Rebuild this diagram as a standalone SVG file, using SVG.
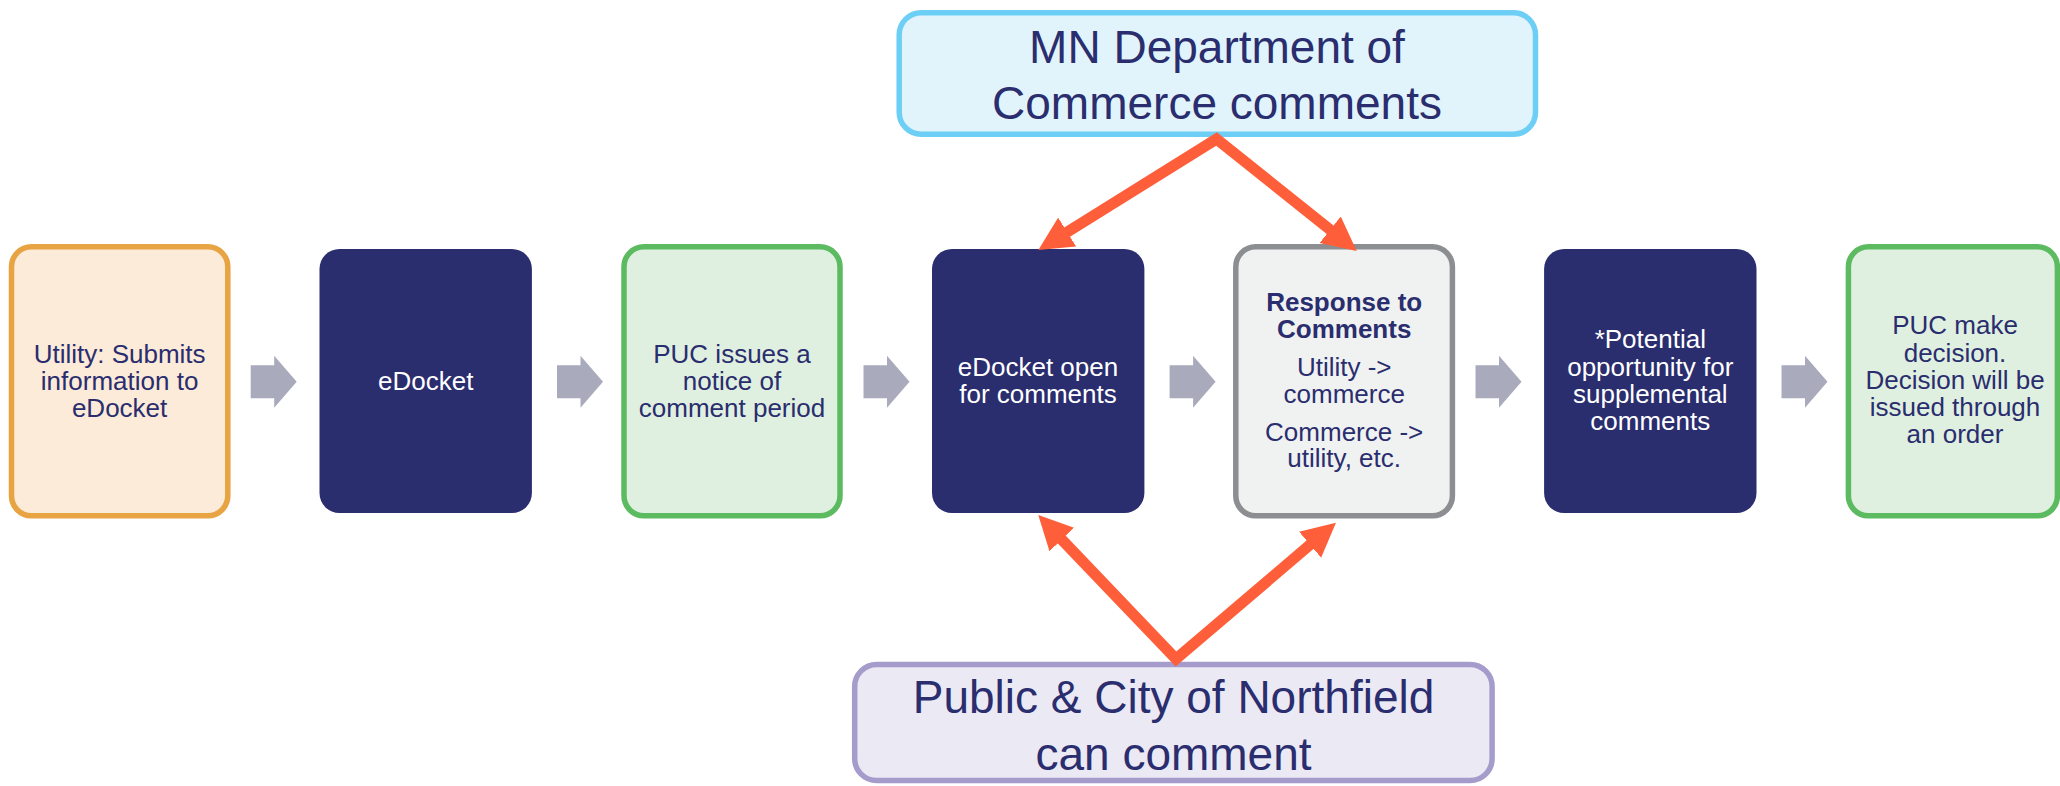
<svg xmlns="http://www.w3.org/2000/svg" width="2060" height="786" viewBox="0 0 2060 786">
<style>
text{font-family:"Liberation Sans",Arial,sans-serif;text-anchor:middle;}
.t{font-size:26px;fill:#2A2D6E;}
.w{font-size:26px;fill:#FFFFFF;}
.b{font-weight:bold;}
.big{font-size:46px;fill:#2A2D6E;}
.navy{fill:#2A2D6E;}
.orange{fill:#FBEBD8;stroke:#E8A343;stroke-width:5.5;}
.green{fill:#DFF0E0;stroke:#5CBB60;stroke-width:5.5;}
.gray{fill:#F0F2F1;stroke:#8C8E91;stroke-width:5.5;}
.blue{fill:#E1F4FC;stroke:#6DCFF6;stroke-width:5.5;}
.lav{fill:#EBE9F4;stroke:#A59CCB;stroke-width:5.5;}
.flow{fill:#A9ABBD;}
.conn{fill:none;stroke:#FF5E3A;stroke-width:11;stroke-linejoin:miter;stroke-miterlimit:10;}
</style>
<defs>
<path id="step" d="M0,9.5 H23.5 V0 L46,26 L23.5,52 V42.5 H0 Z"/>
<marker id="head" markerUnits="userSpaceOnUse" markerWidth="36" markerHeight="36" refX="2" refY="17" orient="auto-start-reverse" viewBox="0 0 36 36">
<path d="M0,0 L34,17 L0,34 Z" fill="#FF5E3A"/>
</marker>
</defs>
<rect width="2060" height="786" fill="#FFFFFF"/>

<g id="flow-arrows">
<use href="#step" class="flow" x="250.7" y="355.7"/>
<use href="#step" class="flow" x="557" y="355.7"/>
<use href="#step" class="flow" x="863.5" y="355.7"/>
<use href="#step" class="flow" x="1169.6" y="355.7"/>
<use href="#step" class="flow" x="1475.5" y="355.7"/>
<use href="#step" class="flow" x="1781.5" y="355.7"/>
</g>

<g id="utility">
<rect class="orange" x="11.5" y="246.8" width="216.3" height="269" rx="20"/>
<text class="t" x="119.6" y="362.5">Utility: Submits</text>
<text class="t" x="119.6" y="389.5">information to</text>
<text class="t" x="119.6" y="416.5">eDocket</text>
</g>

<g id="edocket">
<rect class="navy" x="319.5" y="249" width="212.4" height="264" rx="20"/>
<text class="w" x="425.7" y="390">eDocket</text>
</g>

<g id="puc-notice">
<rect class="green" x="624" y="246.8" width="216" height="269" rx="20"/>
<text class="t" x="732" y="362.5">PUC issues a</text>
<text class="t" x="732" y="389.5">notice of</text>
<text class="t" x="732" y="416.5">comment period</text>
</g>

<g id="edocket-open">
<rect class="navy" x="932" y="249" width="212.4" height="264" rx="20"/>
<text class="w" x="1038" y="375.7">eDocket open</text>
<text class="w" x="1038" y="402.5">for comments</text>
</g>

<g id="response">
<rect class="gray" x="1235.8" y="246.8" width="216.6" height="269" rx="20"/>
<text class="t b" x="1344.2" y="311">Response to</text>
<text class="t b" x="1344.2" y="337.5">Comments</text>
<text class="t" x="1344.2" y="376">Utility -&gt;</text>
<text class="t" x="1344.2" y="402.7">commerce</text>
<text class="t" x="1344.2" y="440.7">Commerce -&gt;</text>
<text class="t" x="1344.2" y="467.3">utility, etc.</text>
</g>

<g id="supplemental">
<rect class="navy" x="1544.1" y="249" width="212.4" height="264" rx="20"/>
<text class="w" x="1650.3" y="348.3">*Potential</text>
<text class="w" x="1650.3" y="375.5">opportunity for</text>
<text class="w" x="1650.3" y="402.5">supplemental</text>
<text class="w" x="1650.3" y="429.5">comments</text>
</g>

<g id="decision">
<rect class="green" x="1848.4" y="246.8" width="209" height="269" rx="20"/>
<text class="t" x="1955" y="334.3">PUC make</text>
<text class="t" x="1955" y="361.5">decision.</text>
<text class="t" x="1955" y="388.5">Decision will be</text>
<text class="t" x="1955" y="415.7">issued through</text>
<text class="t" x="1955" y="442.7">an order</text>
</g>

<g id="commerce">
<rect class="blue" x="899.2" y="12.7" width="636.3" height="121.5" rx="22"/>
<text class="big" x="1217" y="63.3">MN Department of</text>
<text class="big" x="1217" y="119.3">Commerce comments</text>
</g>

<g id="public">
<rect class="lav" x="854.7" y="664.4" width="637.4" height="116.2" rx="22"/>
<text class="big" x="1173.5" y="713.3">Public &amp; City of Northfield</text>
<text class="big" x="1173.5" y="769.5">can comment</text>
</g>

<g id="connectors">
<polyline class="conn" points="1065.5,233.1 1216.5,139 1331.7,231" marker-start="url(#head)" marker-end="url(#head)"/>
<polyline class="conn" points="1060.4,538.1 1176,659 1311.6,543.4" marker-start="url(#head)" marker-end="url(#head)"/>
</g>
</svg>
